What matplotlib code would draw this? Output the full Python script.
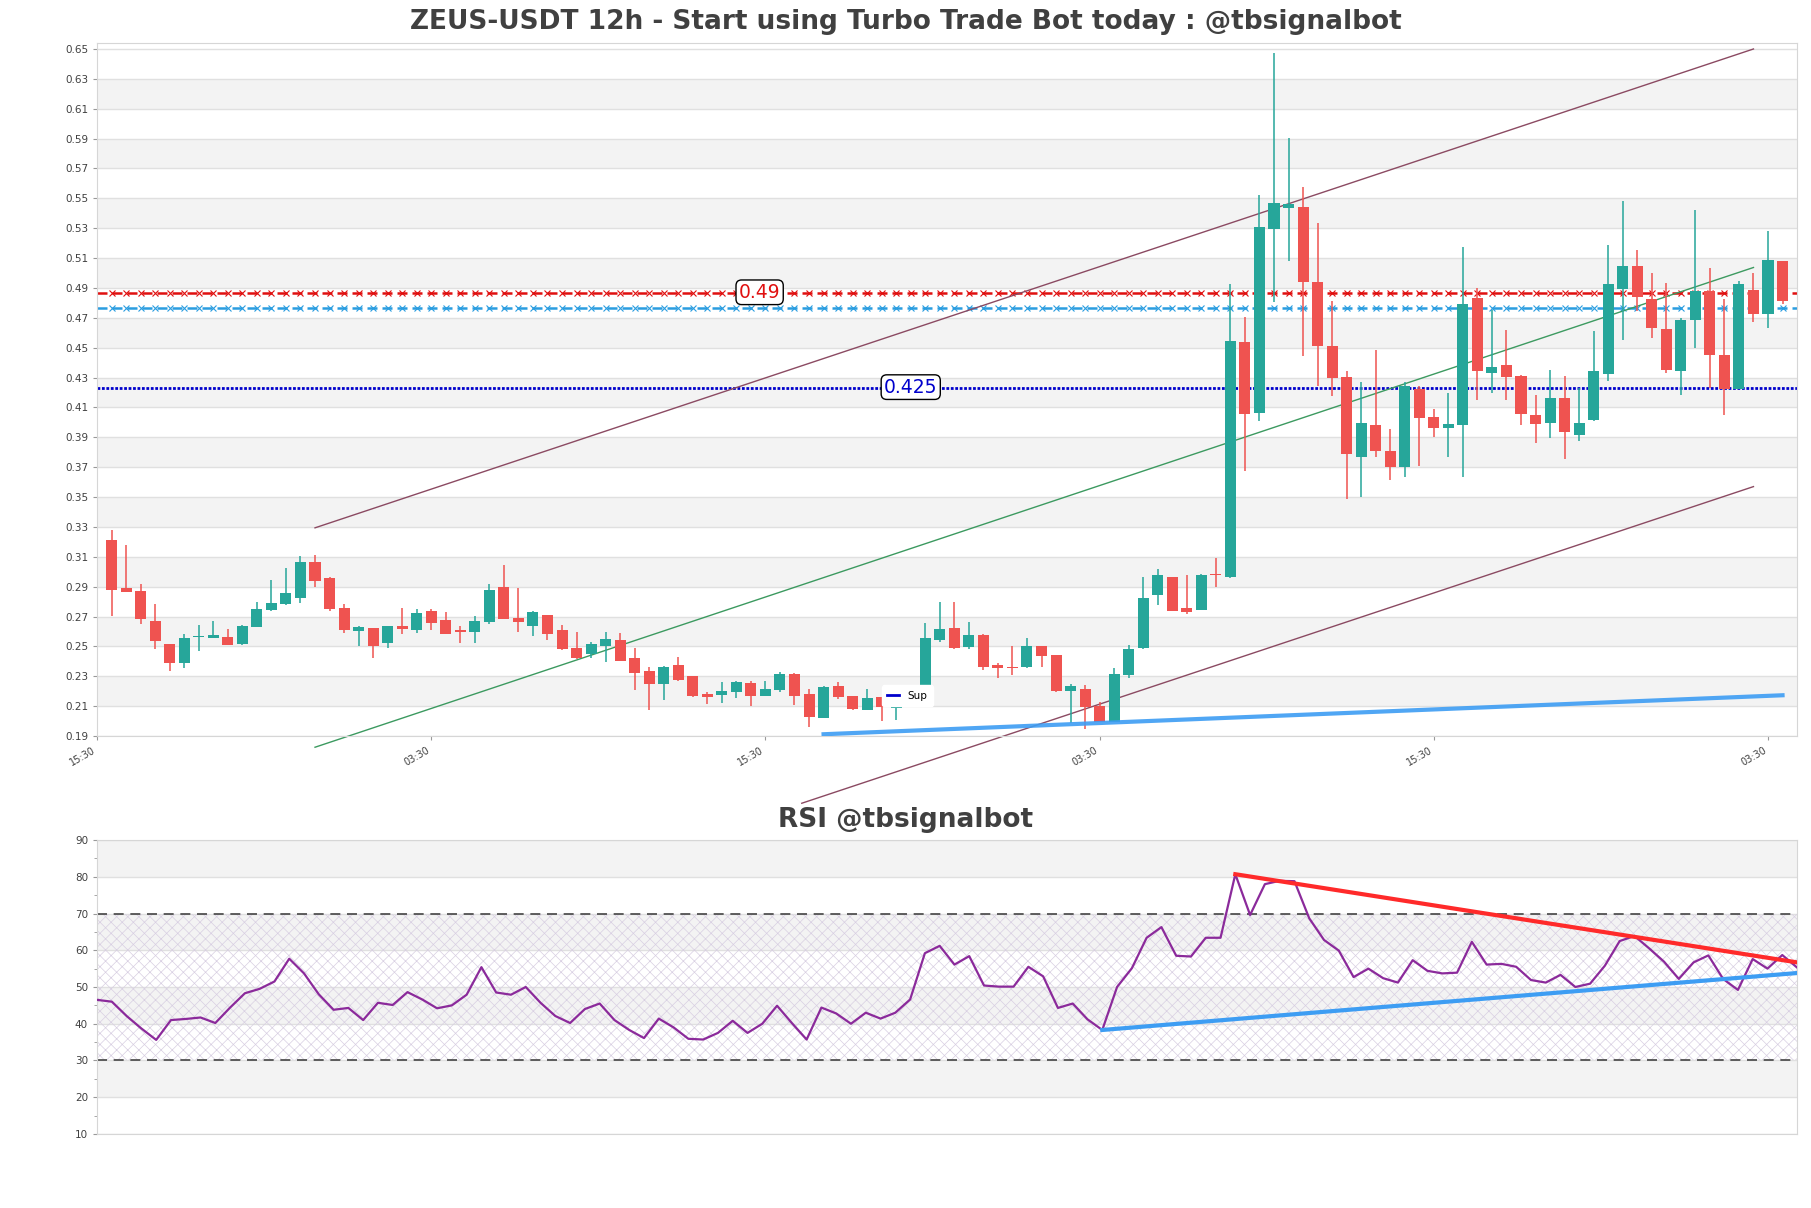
"""ZEUS-USDT 12h candles with trend channel, levels and RSI panel."""

import matplotlib

matplotlib.use("Agg")
import matplotlib.pyplot as plt
import numpy as np

TITLE = "ZEUS-USDT 12h - Start using Turbo Trade Bot today : @tbsignalbot"
RSI_TITLE = "RSI @tbsignalbot"

opens = [
    0.3215, 0.2888, 0.2868, 0.2668, 0.2519, 0.2388, 0.2563, 0.2557, 0.2566, 0.2514,
    0.2628, 0.2741, 0.2781, 0.2821, 0.3068, 0.2955, 0.2755, 0.2601, 0.2621, 0.2521,
    0.2635, 0.2608, 0.2735, 0.2675, 0.2608, 0.2594, 0.2661, 0.2901, 0.2688, 0.2635,
    0.2708, 0.2608, 0.2488, 0.2448, 0.2501, 0.2541, 0.2421, 0.2334, 0.2248, 0.2374,
    0.2301, 0.2181, 0.2174, 0.2194, 0.2254, 0.2168, 0.2208, 0.2313, 0.2181, 0.2021,
    0.2237, 0.2168, 0.2074, 0.2161, 0.2090, 0.2115, 0.2234, 0.2541, 0.2621, 0.2495,
    0.2575, 0.2374, 0.2363, 0.2361, 0.2501, 0.2441, 0.2201, 0.2214, 0.2100, 0.1994,
    0.2308, 0.2488, 0.2841, 0.2968, 0.2755, 0.2741, 0.2985, 0.2968, 0.4540, 0.4066,
    0.5292, 0.5435, 0.5444, 0.4941, 0.4513, 0.4305, 0.3766, 0.3982, 0.3809, 0.3698,
    0.4225, 0.4035, 0.3964, 0.3984, 0.4834, 0.4328, 0.4386, 0.4308, 0.4051, 0.3998,
    0.4162, 0.3913, 0.4017, 0.4323, 0.4893, 0.5049, 0.4826, 0.4627, 0.4341, 0.4683,
    0.4877, 0.4452, 0.4225, 0.4888, 0.4725, 0.5082,
]
highs = [
    0.3282, 0.3182, 0.2915, 0.2781, 0.2519, 0.2581, 0.2641, 0.2668, 0.2614, 0.2646,
    0.2797, 0.2948, 0.3022, 0.3108, 0.3115, 0.2968, 0.2781, 0.2635, 0.2621, 0.2635,
    0.2755, 0.2748, 0.2748, 0.2728, 0.2635, 0.2701, 0.2921, 0.3048, 0.2888, 0.2735,
    0.2708, 0.2641, 0.2594, 0.2528, 0.2594, 0.2588, 0.2488, 0.2361, 0.2368, 0.2428,
    0.2301, 0.2194, 0.2261, 0.2268, 0.2268, 0.2268, 0.2328, 0.2321, 0.2214, 0.2237,
    0.2261, 0.2168, 0.2214, 0.2161, 0.2160, 0.2150, 0.2654, 0.2795, 0.2795, 0.2661,
    0.2581, 0.2387, 0.2501, 0.2555, 0.2501, 0.2441, 0.2248, 0.2241, 0.2128, 0.2354,
    0.2508, 0.2968, 0.3015, 0.2968, 0.2981, 0.2988, 0.3095, 0.4928, 0.4707, 0.5524,
    0.6473, 0.5904, 0.5578, 0.5337, 0.4814, 0.4341, 0.4267, 0.4482, 0.3955, 0.4267,
    0.4245, 0.4091, 0.4200, 0.5174, 0.4901, 0.4754, 0.4620, 0.4319, 0.4180, 0.4348,
    0.4308, 0.4229, 0.4609, 0.5189, 0.5484, 0.5156, 0.5000, 0.4933, 0.4698, 0.5422,
    0.5033, 0.4826, 0.4944, 0.5000, 0.5278, 0.5082,
]
lows = [
    0.2703, 0.2864, 0.2648, 0.2481, 0.2337, 0.2357, 0.2470, 0.2557, 0.2508, 0.2508,
    0.2628, 0.2735, 0.2775, 0.2788, 0.2895, 0.2735, 0.2588, 0.2501, 0.2421, 0.2488,
    0.2581, 0.2588, 0.2608, 0.2581, 0.2521, 0.2523, 0.2648, 0.2681, 0.2594, 0.2568,
    0.2541, 0.2475, 0.2414, 0.2421, 0.2394, 0.2401, 0.2207, 0.2074, 0.2141, 0.2268,
    0.2161, 0.2114, 0.2121, 0.2154, 0.2101, 0.2168, 0.2194, 0.2106, 0.1963, 0.2021,
    0.2148, 0.2074, 0.2074, 0.2003, 0.2005, 0.2105, 0.2234, 0.2528, 0.2481, 0.2481,
    0.2341, 0.2288, 0.2307, 0.2354, 0.2363, 0.2194, 0.1990, 0.1950, 0.1994, 0.1994,
    0.2288, 0.2481, 0.2775, 0.2735, 0.2715, 0.2741, 0.2895, 0.2955, 0.3673, 0.4011,
    0.4805, 0.5080, 0.4442, 0.4241, 0.4174, 0.3486, 0.3500, 0.3766, 0.3617, 0.3637,
    0.3711, 0.3904, 0.3771, 0.3631, 0.4151, 0.4196, 0.4151, 0.3984, 0.3860, 0.3893,
    0.3753, 0.3873, 0.4011, 0.4274, 0.4549, 0.4743, 0.4562, 0.4330, 0.4180, 0.4495,
    0.4229, 0.4049, 0.4225, 0.4669, 0.4629, 0.4794,
]
closes = [
    0.2881, 0.2864, 0.2681, 0.2534, 0.2388, 0.2555, 0.2567, 0.2579, 0.2508, 0.2635,
    0.2748, 0.2788, 0.2855, 0.3062, 0.2941, 0.2748, 0.2608, 0.2628, 0.2501, 0.2635,
    0.2615, 0.2721, 0.2655, 0.2581, 0.2594, 0.2668, 0.2881, 0.2681, 0.2661, 0.2728,
    0.2581, 0.2481, 0.2421, 0.2514, 0.2548, 0.2401, 0.2321, 0.2248, 0.2361, 0.2274,
    0.2168, 0.2161, 0.2201, 0.2261, 0.2168, 0.2214, 0.2313, 0.2168, 0.2028, 0.2230,
    0.2161, 0.2083, 0.2154, 0.2094, 0.2115, 0.2140, 0.2555, 0.2615, 0.2488, 0.2575,
    0.2361, 0.2354, 0.2356, 0.2501, 0.2434, 0.2201, 0.2234, 0.2094, 0.1994, 0.2314,
    0.2481, 0.2821, 0.2981, 0.2735, 0.2728, 0.2981, 0.2978, 0.4546, 0.4058, 0.5310,
    0.5471, 0.5464, 0.4937, 0.4509, 0.4294, 0.3786, 0.3993, 0.3806, 0.3698, 0.4245,
    0.4028, 0.3961, 0.3989, 0.4794, 0.4341, 0.4368, 0.4301, 0.4058, 0.3989, 0.4162,
    0.3938, 0.3999, 0.4341, 0.4928, 0.5049, 0.4837, 0.4629, 0.4348, 0.4687, 0.4877,
    0.4448, 0.4225, 0.4928, 0.4725, 0.5089, 0.4810,
]

rsi = [
    46.5, 46.0, 42.1, 38.7, 35.6, 41.0, 41.3, 41.7, 40.2, 44.4,
    48.3, 49.5, 51.5, 57.7, 53.7, 48.0, 43.8, 44.3, 41.0, 45.7,
    45.1, 48.6, 46.6, 44.2, 45.0, 47.9, 55.4, 48.5, 47.9, 50.0,
    45.7, 42.1, 40.2, 44.0, 45.5, 41.0, 38.3, 36.1, 41.4, 39.0,
    35.9, 35.7, 37.5, 40.8, 37.5, 40.0, 44.9, 40.2, 35.7, 44.4,
    42.8, 40.0, 43.0, 41.4, 43.0, 46.6, 59.2, 61.2, 56.1, 58.4,
    50.4, 50.1, 50.1, 55.5, 52.9, 44.3, 45.5, 41.2, 38.3, 50.0,
    55.1, 63.4, 66.3, 58.5, 58.3, 63.4, 63.4, 80.7, 69.6, 78.0,
    78.9, 78.8, 68.7, 62.8, 59.9, 52.7, 55.0, 52.4, 51.2, 57.3,
    54.4, 53.7, 53.9, 62.3, 56.1, 56.3, 55.5, 51.9, 51.2, 53.3,
    50.0, 50.9, 55.8, 62.5, 63.9, 60.5, 56.9, 52.2, 56.7, 58.6,
    52.2, 49.2, 57.6, 55.0, 58.7, 55.3,
]

xtick_pos = [-1, 22, 45, 68, 91, 114]
xtick_labels = ["15:30", "03:30", "15:30", "03:30", "15:30", "03:30"]

# horizontal levels
res_level, res_text = 0.4866, "0.49"
res2_level = 0.4765
sup_level, sup_text = 0.4233, "0.425"

# trend channel (candle index, price)
chan_up_x, chan_up_y = [14, 113], [0.3294, 0.650]
chan_mid_x, chan_mid_y = [14, 113], [0.1825, 0.5037]
chan_lo_x, chan_lo_y = [47.5, 113], [0.1450, 0.3570]
sup_tr_x, sup_tr_y = [49, 115], [0.1912, 0.2173]

# rsi trend lines
rsi_res_x, rsi_res_y = [77, 115], [80.7, 56.7]
rsi_sup_x, rsi_sup_y = [68, 115], [38.3, 53.8]

UP = "#26a69a"
DOWN = "#ef5350"
BAND = "#f3f3f3"
GRID = "#e0e0e0"
TXT = "#404040"


def style_axes(ax):
    for s in ax.spines.values():
        s.set_color("#d6d6d6")
    ax.tick_params(axis="both", colors="#999999", labelcolor=TXT, length=3, width=0.8)


def main() -> None:
    plt.rcParams["hatch.linewidth"] = 0.5
    fig = plt.figure(figsize=(18.11, 12.08), dpi=100)
    ax = fig.add_axes([0.0536, 0.3907, 0.9387, 0.5737])
    ax2 = fig.add_axes([0.0536, 0.0613, 0.9387, 0.2433])

    n = len(opens)
    x = np.arange(n)
    o = np.array(opens)
    c = np.array(closes)
    h = np.array(highs)
    l = np.array(lows)
    up = c >= o
    cols = np.where(up, UP, DOWN)

    # price panel background
    ticks = np.round(np.arange(0.19, 0.651, 0.02), 2)
    for i, t in enumerate(ticks[:-1]):
        if i % 2 == 1:
            ax.axhspan(t, t + 0.02, color=BAND, lw=0, zorder=0)
    for t in ticks:
        ax.axhline(t, color=GRID, lw=1, zorder=0.5)

    # levels
    ax.axhline(res_level, color="#e01010", lw=1.8, ls=(0, (4, 2)), zorder=1)
    ax.plot(x, np.full(n, res_level), ls="none", marker="x", ms=4, mew=0.8,
            color="#e01010", zorder=1)
    ax.axhline(res2_level, color="#2a9de0", lw=1.8, ls=(0, (4, 2)), zorder=1)
    ax.plot(x, np.full(n, res2_level), ls="none", marker="x", ms=4, mew=0.8,
            color="#2a9de0", zorder=1)
    ax.axhline(sup_level, color="#0000cc", lw=2, ls=(0, (1, 0.6)), zorder=1)

    # channel
    ax.plot(chan_up_x, chan_up_y, color="#8b4a62", lw=1, clip_on=False, zorder=2)
    ax.plot(chan_lo_x, chan_lo_y, color="#8b4a62", lw=1, clip_on=False, zorder=2)
    ax.plot(chan_mid_x, chan_mid_y, color="#3c9a60", lw=1, clip_on=False, zorder=2)

    # candles
    ax.vlines(x, l, h, colors=cols, lw=1.1, zorder=3)
    body = np.maximum(np.abs(c - o), 0.0009)
    ax.bar(x, body, bottom=np.minimum(o, c), width=0.76, color=cols, lw=0, zorder=4)

    ax.plot(sup_tr_x, sup_tr_y, color="#3d9df3", lw=3, alpha=0.9, zorder=5)
    leg_line, = ax.plot([], [], color="#0000cc", lw=2, label="Sup")
    ax.legend(handles=[leg_line], loc="lower left", bbox_to_anchor=(0.4585, 0.036),
              fontsize=7.5, frameon=True, edgecolor="white", framealpha=1,
              handlelength=1.2, borderpad=0.5).set_zorder(7)

    box = dict(boxstyle="round,pad=0.15,rounding_size=0.3", fc="white", ec="black", lw=1)
    ax.text(44.6, res_level + 0.0005, res_text, color="#e01010", fontsize=13.5,
            ha="center", va="center", bbox=box, zorder=6)
    ax.text(55.0, sup_level + 0.0003, sup_text, color="#0000cc", fontsize=13.5,
            ha="center", va="center", bbox=box, zorder=6)

    ax.set_xlim(-1, n)
    ax.set_ylim(0.19, 0.654)
    ax.set_yticks(ticks)
    ax.set_yticklabels([f"{t:.2f}" for t in ticks], fontsize=7.5)
    ax.set_xticks(xtick_pos)
    ax.set_xticklabels(xtick_labels, fontsize=7, rotation=30, ha="right")
    style_axes(ax)

    # rsi panel
    for lo in (20, 40, 60, 80):
        ax2.axhspan(lo, lo + 10, color=BAND, lw=0, zorder=0)
    for t in range(10, 91, 10):
        ax2.axhline(t, color=GRID, lw=1, zorder=0.5)
    ax2.fill_between([0, n - 1], 30, 70, facecolor="none", edgecolor="#d8cfe2",
                     hatch="xxx", lw=0, zorder=0.7)
    ax2.axhline(70, color="#444444", lw=1.2, ls=(0, (6, 4)), zorder=1)
    ax2.axhline(30, color="#444444", lw=1.2, ls=(0, (6, 4)), zorder=1)
    ax2.plot(x, rsi, color="#8b2a9b", lw=1.6, zorder=3)
    ax2.plot(rsi_res_x, rsi_res_y, color="#ff2a2a", lw=3, zorder=4)
    ax2.plot(rsi_sup_x, rsi_sup_y, color="#3d9df3", lw=3, zorder=4)
    ax2.set_xlim(0, n - 1)
    ax2.set_ylim(10, 90)
    ax2.set_yticks(range(10, 91, 10))
    ax2.set_yticks(range(15, 90, 10), minor=True)
    ax2.tick_params(axis="y", labelsize=7.5)
    ax2.set_xticks([])
    style_axes(ax2)
    ax2.tick_params(axis="y", which="minor", colors="#999999", length=2)

    fig.text(0.5, 0.9818, TITLE, ha="center", va="center", fontsize=19,
             fontweight="bold", color=TXT)
    fig.text(0.5, 0.3212, RSI_TITLE, ha="center", va="center", fontsize=19,
             fontweight="bold", color=TXT)

    fig.savefig("out.png", dpi=100)
    plt.close(fig)


if __name__ == "__main__":
    main()
